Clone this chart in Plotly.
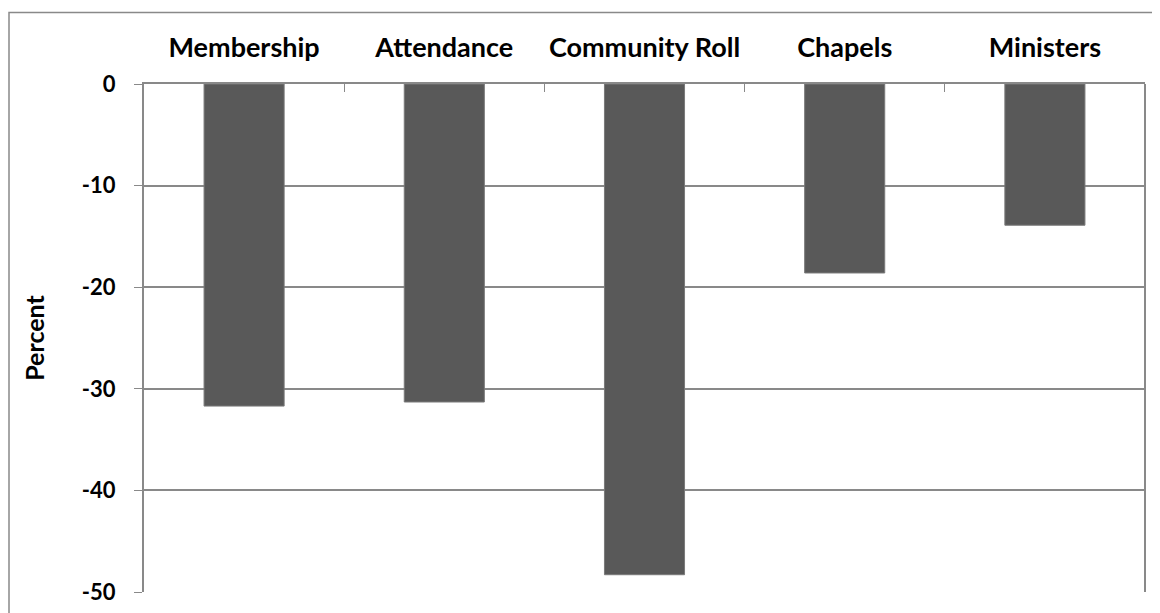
import plotly.graph_objects as go

categories = ["Membership", "Attendance", "Community Roll", "Chapels", "Ministers"]
values = [-31.7, -31.3, -48.3, -18.6, -13.9]
y_ticks = [0, -10, -20, -30, -40, -50]

FONT = "Lato"
GRAY = "#898989"

fig = go.Figure()
fig.add_trace(go.Bar(
    x=categories, y=values,
    marker=dict(color="#595959", line=dict(color="#7a7a7a", width=1)),
    width=0.4,
))

OFF = 8  # page body margin
W, H = 1160 - OFF, 613 - OFF
PL, PR, PT, PB = 144, 1145, 84, 592  # target plot area in page pixels
L, T = PL - OFF, PT - OFF
R = OFF + W - PR
B = OFF + H - PB
pw = PR - PL
ph = PB - PT

fig.update_layout(
    width=W, height=H,
    margin=dict(l=L, r=R, t=T, b=B, autoexpand=False),
    paper_bgcolor="white", plot_bgcolor="white",
    showlegend=False,
    font=dict(family=FONT, color="black"),
    xaxis=dict(
        side="top", type="category",
        showline=True, linecolor=GRAY, linewidth=2,
        ticks="inside", ticklen=8, tickcolor=GRAY, tickwidth=1,
        tickson="boundaries",
        showgrid=False,
        tickfont=dict(family=FONT, size=27, color="black", weight="bold"),
        ticklabelstandoff=14,
        range=[-0.5, 4.5],
        anchor="y",
    ),
    yaxis=dict(
        range=[-50, 0],
        tickvals=y_ticks,
        ticktext=[str(v) for v in y_ticks],
        showline=True, linecolor=GRAY, linewidth=2,
        ticks="outside", ticklen=8, tickcolor=GRAY, tickwidth=1,
        showgrid=True, gridcolor=GRAY, gridwidth=2,
        zeroline=False,
        tickfont=dict(family=FONT, size=22, color="black", weight="bold"),
        ticklabelstandoff=14,
        title=dict(text="Percent", font=dict(family=FONT, size=25, color="black", weight="bold"), standoff=30),
    ),
)

# plot-area right border
fig.add_shape(type="line", xref="paper", yref="paper", x0=1, x1=1, y0=0, y1=1,
              line=dict(color=GRAY, width=2))
# outer chart border (extends past image right/bottom)
fig.add_shape(type="rect", xref="paper", yref="paper",
              x0=(9 - PL) / pw, x1=(1175 - PL) / pw,
              y0=(PB - 630) / ph, y1=(PB - 12.5) / ph,
              line=dict(color=GRAY, width=1.5), layer="below")

fig.write_html("out.html")
